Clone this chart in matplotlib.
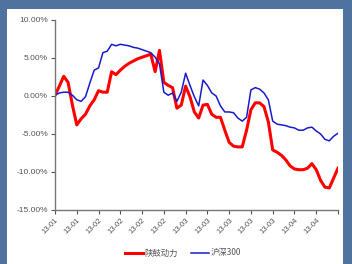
import matplotlib
matplotlib.use("Agg")
import matplotlib.pyplot as plt
from matplotlib.patches import Rectangle
from matplotlib.ticker import FuncFormatter

plt.rcParams['font.family'] = ['Liberation Sans', 'Noto Sans CJK SC', 'DejaVu Sans']

# daily cumulative return, %
shangu = [0.1, 1.3, 2.6, 1.8, -1.2, -3.8, -3.0, -2.4, -1.3, -0.5,
          0.7, 0.5, 0.5, 3.2, 2.8, 3.4, 3.9, 4.3, 4.6, 4.9,
          5.1, 5.3, 5.5, 3.2, 6.0, 1.8, 1.4, 1.1, -1.6, -1.2,
          1.3, -0.1, -2.1, -2.9, -1.2, -1.1, -2.4, -2.8, -2.8, -4.5,
          -6.1, -6.6, -6.7, -6.7, -4.5, -1.8, -0.9, -0.9, -1.4, -3.4,
          -7.1, -7.4, -7.8, -8.4, -9.2, -9.6, -9.7, -9.7, -9.5, -8.9,
          -9.7, -11.1, -12.0, -12.1, -10.8, -9.5]
hs300 = [0.1, 0.4, 0.5, 0.5, 0.1, -0.5, -0.7, -0.1, 1.7, 3.4,
         3.7, 5.7, 5.9, 6.8, 6.6, 6.8, 6.7, 6.6, 6.4, 6.3,
         6.1, 5.9, 5.7, 5.1, 4.2, 0.5, 0.1, 0.4, -0.7, 0.5,
         3.0, 1.4, -0.1, -1.3, 2.1, 1.4, 0.4, 0.0, -1.3, -2.1,
         -2.1, -2.2, -2.9, -3.3, -2.8, 0.8, 1.1, 0.9, 0.4, -0.5,
         -3.3, -3.7, -3.8, -3.9, -4.1, -4.2, -4.5, -4.5, -4.2, -4.1,
         -4.6, -5.0, -5.7, -5.9, -5.3, -4.9]
tickLabels = ['13-01', '13-01', '13-02', '13-02', '13-02', '13-02', '13-03',
              '13-03', '13-03', '13-03', '13-03', '13-04', '13-04']

fig = plt.figure(figsize=(3.52, 2.64), dpi=100, facecolor='#4F729E')
bg = Rectangle((7/352, 0), 336/352, 255/264, transform=fig.transFigure,
               facecolor='white', edgecolor='none', zorder=-10)
fig.add_artist(bg)

ax = fig.add_axes([55/352, 1-210/264, 283/352, 190/264])
ax.set_zorder(5)
ax.set_facecolor('none')
x = list(range(len(shangu)))
ax.plot(x, shangu, color='#FF0000', linewidth=2.2, label='陕鼓动力', solid_joinstyle='round')
ax.plot(x, hs300, color='#1A1ACC', linewidth=1.1, label='沪深300')

ax.set_xlim(0, 65)
ax.set_ylim(-15, 10)
ax.set_yticks([-15, -10, -5, 0, 5, 10])
ax.yaxis.set_major_formatter(FuncFormatter(lambda v, p: '%.2f%%' % v))
ax.set_xticks(range(0, 66, 5))
ax.set_xticklabels(tickLabels + [''], rotation=45, ha='right', rotation_mode='anchor')
ax.tick_params(axis='both', labelsize=6, colors='#555555', length=3, width=0.8, pad=2)
ax.tick_params(axis='x', labelsize=5.5)

for s in ['top', 'right']:
    ax.spines[s].set_visible(False)
for s in ['left', 'bottom']:
    ax.spines[s].set_color('#777777')
    ax.spines[s].set_linewidth(1.0)

leg = fig.legend(loc='center', bbox_to_anchor=(183/352, 1-253/264), ncol=2, frameon=False,
                 handlelength=2.2, handletextpad=0.2, columnspacing=1.5,
                 prop={'family': ['Noto Sans CJK SC', 'DejaVu Sans'], 'size': 6})
leg.set_zorder(6)
for t in leg.get_texts():
    t.set_color('#555555')

fig.savefig('out.png', dpi=100, facecolor=fig.get_facecolor())
